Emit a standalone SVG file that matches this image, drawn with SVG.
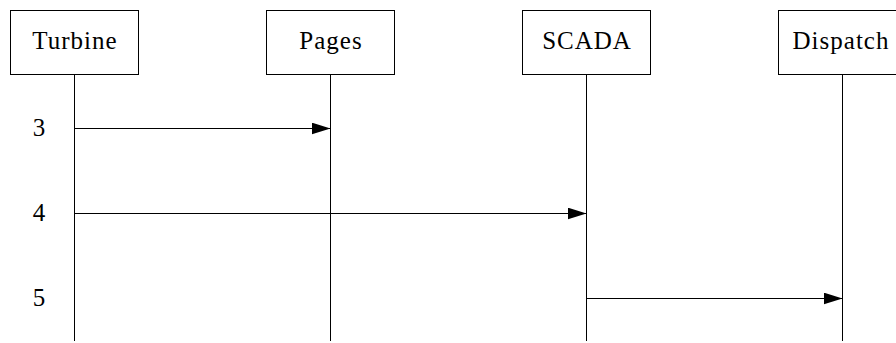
<svg xmlns="http://www.w3.org/2000/svg" width="896" height="343" viewBox="0 0 896 343">
<style>
.box{fill:#fff;stroke:#000;stroke-width:1}
.life{stroke:#000;stroke-width:1}
.msg{stroke:#000;stroke-width:1;fill:none}
.lbl{font-family:"Liberation Serif","DejaVu Serif",serif;font-size:25px;letter-spacing:1px;fill:#000;text-anchor:middle}
.num{font-family:"Liberation Serif","DejaVu Serif",serif;font-size:25px;fill:#000;text-anchor:middle}
</style>
<defs>
<marker id="arr" viewBox="0 0 19 12" refX="19" refY="6" markerWidth="19" markerHeight="12" markerUnits="userSpaceOnUse" orient="auto">
<path d="M0,0 L19,6 L0,12 Z" fill="#000"/>
</marker>
</defs>
<g id="lifelines">
<line class="life" x1="74.5" y1="74" x2="74.5" y2="341"/>
<line class="life" x1="330.5" y1="74" x2="330.5" y2="341"/>
<line class="life" x1="586.5" y1="74" x2="586.5" y2="341"/>
<line class="life" x1="842.5" y1="74" x2="842.5" y2="341"/>
</g>
<g id="node-turbine">
<rect class="box" x="10.5" y="10.5" width="128" height="64"/>
<text class="lbl" x="75" y="49">Turbine</text>
</g>
<g id="node-pages">
<rect class="box" x="266.5" y="10.5" width="128" height="64"/>
<text class="lbl" x="331" y="49">Pages</text>
</g>
<g id="node-scada">
<rect class="box" x="522.5" y="10.5" width="128" height="64"/>
<text class="lbl" x="587" y="49">SCADA</text>
</g>
<g id="node-dispatch">
<rect class="box" x="778.5" y="10.5" width="128" height="64"/>
<text class="lbl" x="841" y="49">Dispatch</text>
</g>
<g id="connectors">
<line class="msg" x1="74.5" y1="128.5" x2="330.5" y2="128.5" marker-end="url(#arr)"/>
<line class="msg" x1="74.5" y1="213.5" x2="586.5" y2="213.5" marker-end="url(#arr)"/>
<line class="msg" x1="586.5" y1="298.5" x2="842.5" y2="298.5" marker-end="url(#arr)"/>
</g>
<g id="labels">
<text class="num" x="39" y="136">3</text>
<text class="num" x="39" y="221">4</text>
<text class="num" x="39" y="306">5</text>
</g>
</svg>
